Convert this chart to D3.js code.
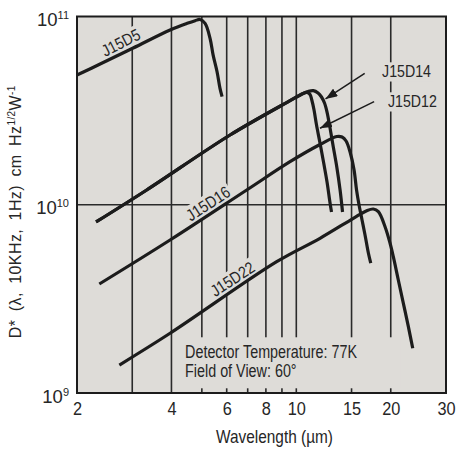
<!DOCTYPE html>
<html><head><meta charset="utf-8">
<script src="https://cdn.jsdelivr.net/npm/d3@7"></script>
<style>
body{margin:0;background:#fff;}
svg{display:block;font-family:"Liberation Sans",Arial,Helvetica,sans-serif;}
</style>
</head><body>
<svg id="c" width="457" height="449"></svg>
<script>
// ---------------- data ----------------
const UNIT = 1e10;                       // D* values below are in units of 1e10
const xTicks = [2, 4, 6, 8, 10, 15, 20, 30];
const xGrid  = [3, 4, 5, 6, 7, 8, 9, 10, 15, 20];
const yTicks = [1e9, 1e10, 1e11];
const yExp   = ["9", "10", "11"];

const wlD5  = [2.0, 2.37, 3.02, 3.96, 4.49, 4.76, 4.93, 5.12, 5.31, 5.43, 5.59, 5.71, 5.80];
const dD5   = [4.89, 5.59, 6.80, 8.48, 9.20, 9.50, 9.64, 9.20, 7.66, 6.25, 5.09, 4.16, 3.75];

const wlD14 = [2.30, 3.336, 6.15, 9.55, 10.51, 10.90, 11.33, 11.73, 12.03, 12.30, 12.53, 12.81, 13.12, 13.46, 13.79, 14.04];
const dD14  = [0.810, 1.198, 2.347, 3.571, 3.901, 3.996, 4.035, 3.923, 3.736, 3.471, 3.109, 2.557, 2.027, 1.587, 1.198, 0.915];

const wlD12 = [2.30, 3.336, 6.15, 9.55, 10.51, 10.82, 11.06, 11.20, 11.39, 11.60, 11.90, 12.21, 12.53, 12.81, 12.95];
const dD12  = [0.810, 1.198, 2.347, 3.571, 3.901, 3.948, 3.853, 3.613, 3.187, 2.652, 2.128, 1.687, 1.321, 1.022, 0.915];

const wlD16 = [2.356, 3.96, 6.95, 9.55, 11.90, 13.46, 13.99, 14.41, 14.84, 15.28, 15.56, 15.85, 16.20, 16.56, 16.97, 17.27];
const dD16  = [0.3793, 0.6496, 1.198, 1.693, 2.089, 2.304, 2.290, 2.181, 1.906, 1.530, 1.198, 0.997, 0.830, 0.691, 0.554, 0.490];

const wlD22 = [2.729, 3.96, 8.66, 11.90, 15.20, 16.77, 17.60, 18.26, 19.18, 19.90, 20.38, 21.14, 21.94, 22.76, 23.50];
const dD22  = [0.1408, 0.2076, 0.4984, 0.6634, 0.8472, 0.9299, 0.9493, 0.9186, 0.7646, 0.6241, 0.5298, 0.3985, 0.2996, 0.2250, 0.1728];

// label anchors (wavelength, D* in 1e10, rotation)
const curveLabels = [
  {text: "J15D5",  wl: 2.758, d: 7.276,  rot: -27},
  {text: "J15D16", wl: 5.234, d: 1.0153, rot: -33},
  {text: "J15D22", wl: 6.262, d: 0.4033, rot: -33}
];
const arrowLabels = [
  {text: "J15D14", wl: 18.77, d: 4.753, from: [16.52, 4.994], to: [12.39, 3.646]},
  {text: "J15D12", wl: 19.60, d: 3.294, from: [17.70, 3.527], to: [11.90, 2.548]}
];
const noteLines = ["Detector Temperature: 77K", "Field of View: 60°"];
const noteAnchor = [4.42, 0.1529];

// ---------------- drawing ----------------
const INK = "#1c1c1c", GRID = "#2a2a2a", PLOTBG = "#dedcd8", TXT = "#262626";
const svg = d3.select("#c");
const x = d3.scaleLog().domain([2, 30]).range([77, 446]);
const y = d3.scaleLog().domain([1e9, 1e11]).range([393, 16.5]);
const X0 = x(2), X1 = x(30), Y0 = y(1e11), Y1 = y(1e9);

svg.append("rect").attr("x", X0).attr("y", Y0).attr("width", X1 - X0).attr("height", Y1 - Y0).attr("fill", PLOTBG);

const gridLayer = svg.append("g");
gridLayer.selectAll("line.v").data(xGrid).join("line")
  .attr("x1", d => x(d)).attr("x2", d => x(d)).attr("y1", Y0).attr("y2", Y1)
  .attr("stroke", GRID).attr("stroke-width", 1.6);
gridLayer.append("line").attr("x1", X0).attr("x2", X1).attr("y1", y(1e10)).attr("y2", y(1e10))
  .attr("stroke", GRID).attr("stroke-width", 1.6);

const bgLayer = svg.append("g");
const curveLayer = svg.append("g");
const textLayer = svg.append("g").attr("fill", TXT);

function label(px, py, str, o) {
  const sx = o.sx || 1;
  const tr = `translate(${px},${py}) rotate(${o.rot || 0}) scale(${sx},1)`;
  const g = textLayer.append("g").attr("transform", tr);
  const t = g.append("text").attr("font-size", o.size).attr("text-anchor", o.anchor || "start").text(str);
  if (o.middle) t.attr("dy", "0.35em");
  if (o.bg) {
    const b = t.node().getBBox(), p = o.pad == null ? 2 : o.pad;
    bgLayer.append("rect").attr("transform", tr)
      .attr("x", b.x - p).attr("y", b.y - p + 2).attr("width", b.width + 2 * p).attr("height", b.height + 2 * p - 3)
      .attr("fill", PLOTBG);
  }
  return t;
}

// curves
const line = d3.line().x(d => x(d[0])).y(d => y(d[1] * UNIT)).curve(d3.curveCatmullRom.alpha(0.5));
[[wlD5, dD5], [wlD14, dD14], [wlD12, dD12], [wlD16, dD16], [wlD22, dD22]].forEach(([w, v]) => {
  curveLayer.append("path").attr("d", line(d3.zip(w, v)))
    .attr("fill", "none").attr("stroke", INK).attr("stroke-width", 3.2).attr("stroke-linejoin", "round");
});

// curve labels
curveLabels.forEach(l => label(x(l.wl), y(l.d * UNIT), l.text, {size: 16.5, sx: 0.86, rot: l.rot, anchor: "middle", middle: true, bg: true, pad: 2}));

// arrows + labels
const defs = svg.append("defs");
defs.append("marker").attr("id", "ah").attr("markerUnits", "userSpaceOnUse")
  .attr("markerWidth", 13).attr("markerHeight", 9).attr("refX", 12).attr("refY", 4.5).attr("orient", "auto")
  .append("path").attr("d", "M0,0 L12,4.5 L0,9 Z").attr("fill", INK);
arrowLabels.forEach(a => {
  label(x(a.wl), y(a.d * UNIT), a.text, {size: 16.5, sx: 0.86, bg: true, pad: 2});
  curveLayer.append("line")
    .attr("x1", x(a.from[0])).attr("y1", y(a.from[1] * UNIT))
    .attr("x2", x(a.to[0])).attr("y2", y(a.to[1] * UNIT))
    .attr("stroke", INK).attr("stroke-width", 1.5).attr("marker-end", "url(#ah)");
});

// note
{
  const nx = x(noteAnchor[0]), ny = y(noteAnchor[1] * UNIT);
  bgLayer.append("rect").attr("x", nx - 5).attr("y", ny - 21).attr("width", 220).attr("height", 51).attr("fill", PLOTBG);
  const g = textLayer.append("g").attr("transform", `translate(${nx},${ny}) scale(0.82,1)`);
  const t = g.append("text").attr("font-size", 17.5);
  noteLines.forEach((s, i) => t.append("tspan").attr("x", 0).attr("dy", i ? 18.4 : 0).text(s));
}

// frame
svg.append("rect").attr("x", X0).attr("y", Y0).attr("width", X1 - X0).attr("height", Y1 - Y0)
  .attr("fill", "none").attr("stroke", INK).attr("stroke-width", 2);

// x axis
const gx = svg.append("g").attr("transform", `translate(0,${Y1})`)
  .call(d3.axisBottom(x).tickValues(xTicks).tickFormat(d3.format("d")).tickSize(0));
gx.attr("font-size", null).attr("font-family", null);
gx.select(".domain").remove();
gx.selectAll("text").attr("y", 22).attr("dy", null).attr("font-size", 19)
  .attr("transform", "scale(0.86,1)").attr("fill", TXT);

// y axis
const gy = svg.append("g").attr("transform", `translate(${X0},0)`)
  .call(d3.axisLeft(y).tickValues(yTicks).tickFormat(() => "").tickSize(0));
gy.attr("font-size", null).attr("font-family", null);
gy.select(".domain").remove();
gy.selectAll("text").attr("x", -8).attr("y", 9).attr("dy", null).attr("fill", TXT).each(function(d, i) {
  const t = d3.select(this);
  t.text(null);
  t.append("tspan").attr("font-size", 18.5).text("10");
  t.append("tspan").attr("font-size", 11).attr("dy", -7).text(yExp[i]);
});

// axis titles
label((X0 + X1) / 2 + 13, 443, "Wavelength (\u00b5m)", {size: 17.5, sx: 0.88, anchor: "middle"});
{
  const g = textLayer.append("g").attr("transform", `translate(21,${(Y0 + Y1) / 2 + 7}) rotate(-90)`);
  const t = g.append("text").attr("font-size", 16).attr("text-anchor", "middle").attr("letter-spacing", 0.4);
  t.append("tspan").text("D* (\u03bb, 10KHz, 1Hz) cm Hz");
  t.append("tspan").attr("font-size", 10).attr("dy", -6).text("1/2");
  t.append("tspan").attr("font-size", 16).attr("dy", 6).text("W");
  t.append("tspan").attr("font-size", 10).attr("dy", -6).text("-1");
  const nat = t.node().getComputedTextLength();
  const spaces = (t.text().match(/ /g) || []).length;
  t.attr("word-spacing", Math.max(0, (253 - nat) / spaces));
}
</script>
</body></html>
